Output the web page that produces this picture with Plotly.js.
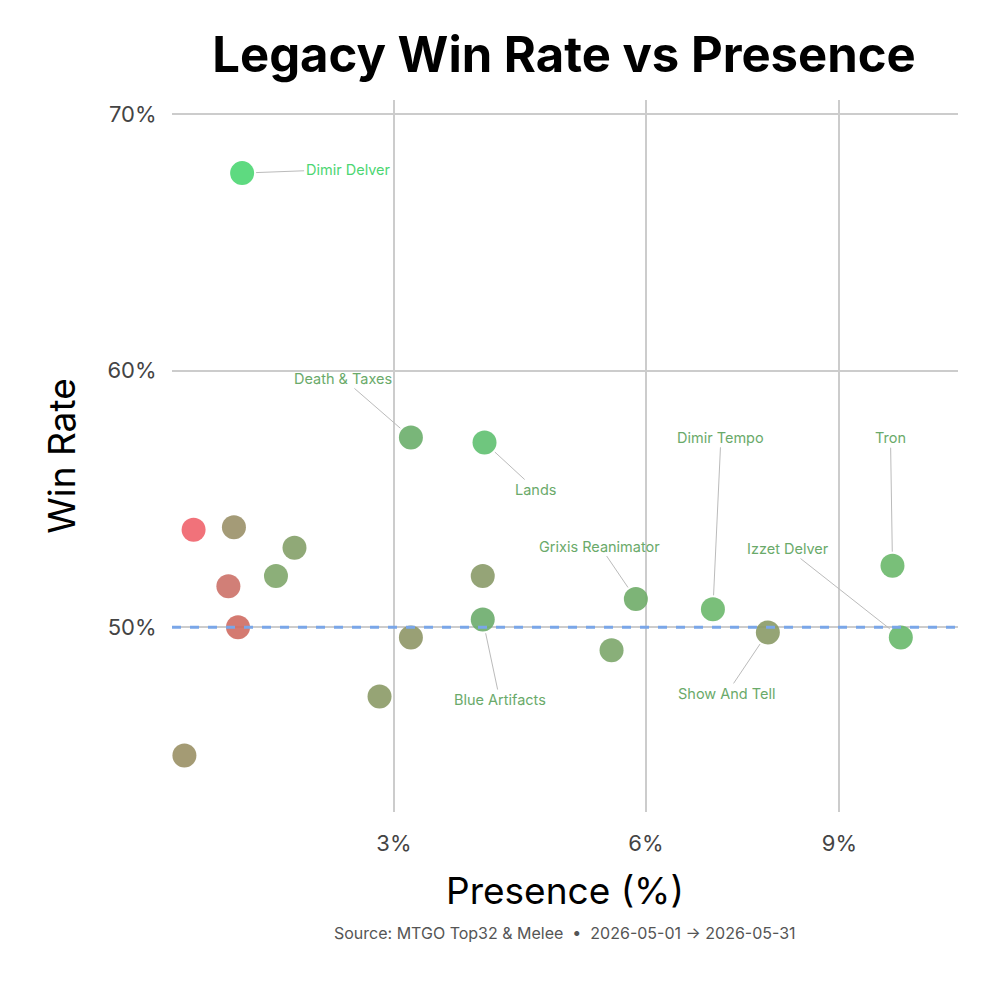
<!DOCTYPE html>
<html><head><meta charset="utf-8">
<script src="https://cdn.plot.ly/plotly-3.0.1.min.js"></script>
<style>body{margin:0}#c{width:1000px;height:1000px}</style></head>
<body><div id="c"></div>
<script>
const decks = ["Dimir Delver","","","","","","","","","Death & Taxes","","Lands","","Blue Artifacts","","Grixis Reanimator","Dimir Tempo","Show And Tell","Tron","Izzet Delver"];
const presence = [1.69,1.35,1.63,1.59,1.66,1.29,1.95,2.10,2.86,3.17,3.17,3.96,3.94,3.94,5.53,5.86,6.97,7.82,9.93,10.08];
const winRate = [67.7,53.8,53.9,51.6,50.0,45.0,52.0,53.1,47.3,57.4,49.6,57.2,52.0,50.3,49.1,51.1,50.7,49.8,52.4,49.6];
const colors = ["#4cd672","#f0636b","#9a9068","#cc7168","#cf6b62","#9a9065","#7fa66a","#84a068","#8b9a66","#6aae6a","#8e9666","#5fc070","#8a9a68","#6cac6c","#7ca66a","#6fac68","#6cb86c","#8a9a66","#6ab86a","#68b86a"];
const labelOffsets = {"Dimir Delver":[106,-4],"Death & Taxes":[-68,-59],"Lands":[51,47],"Blue Artifacts":[17,80],"Grixis Reanimator":[-36,-53],"Dimir Tempo":[8,-172],"Show And Tell":[-41,61],"Tron":[-2,-128],"Izzet Delver":[-113,-89]};
const xTicks = [3,6,9];
const xs = presence.map(Math.sqrt);
const ann = [];
decks.forEach((d,i)=>{ if(!d) return; const o=labelOffsets[d];
  ann.push({x:xs[i],y:winRate[i],text:d,showarrow:true,arrowhead:0,arrowwidth:1,arrowcolor:"#bbbbbb",ax:o[0],ay:o[1],standoff:14,
    font:{family:"Inter",size:14.5,color:i===0?"#4cd672":"#6aaa6a"}});});
ann.push({xref:"paper",yref:"paper",x:0.5,y:-0.187,xanchor:"center",showarrow:false,
  text:"Source: MTGO Top32 & Melee  •  2026-05-01 → 2026-05-31",font:{family:"Inter",size:16,color:"#555"}});
Plotly.newPlot("c",[{x:xs,y:winRate,mode:"markers",type:"scatter",
  marker:{size:24,color:colors,opacity:0.9},hoverinfo:"skip"}],{
  width:1000,height:1000,margin:{l:172,r:42,t:100,b:188},
  paper_bgcolor:"#fff",plot_bgcolor:"#fff",showlegend:false,
  title:{text:"<b>Legacy Win Rate vs Presence</b>",x:0.564,xanchor:"center",y:0.962,yanchor:"top",font:{family:"Inter",size:49,color:"#000"}},
  xaxis:{range:[Math.sqrt(1.211),Math.sqrt(11.14)],tickvals:xTicks.map(Math.sqrt),ticktext:xTicks.map(v=>v+"%"),
    showgrid:true,gridcolor:"#cccccc",gridwidth:2,zeroline:false,showline:false,ticks:"outside",ticklen:12,tickcolor:"rgba(0,0,0,0)",
    tickfont:{family:"Inter",size:22,color:"#444"},
    title:{text:"Presence (%)",font:{family:"Inter",size:37,color:"#000"},standoff:22}},
  yaxis:{range:[42.8,70.55],tickvals:[50,60,70],ticktext:["50%","60%","70%"],
    showgrid:true,gridcolor:"#cccccc",gridwidth:2,zeroline:false,ticks:"outside",ticklen:10,tickcolor:"rgba(0,0,0,0)",
    tickfont:{family:"Inter",size:22,color:"#444"},
    title:{text:"Win Rate",font:{family:"Inter",size:37,color:"#000"},standoff:20}},
  shapes:[{type:"line",xref:"paper",x0:0,x1:1,y0:50,y1:50,line:{color:"#7aa6e8",width:3,dash:"dash"},layer:"above"}],
  annotations:ann},{staticPlot:true});
</script></body></html>
